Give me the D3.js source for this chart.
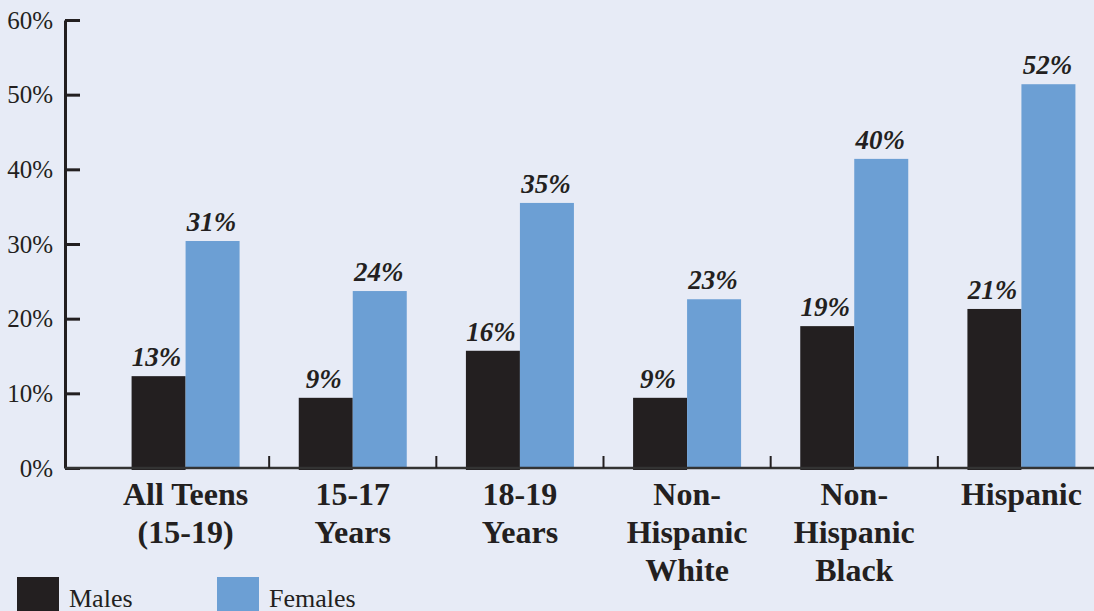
<!DOCTYPE html>
<html>
<head>
<meta charset="utf-8">
<script src="https://cdn.jsdelivr.net/npm/d3@7"></script>
<style>
  body { margin: 0; background: #e7ebf6; }
  svg { display: block; }
  svg text { font-family: "Liberation Serif", Tinos, "Times New Roman", "DejaVu Serif", serif; }
</style>
</head>
<body>
<script>
// chart data
var categories = ["All Teens (15-19)", "15-17 Years", "18-19 Years", "Non-Hispanic White", "Non-Hispanic Black", "Hispanic"];
var categoryLines = [["All Teens", "(15-19)"], ["15-17", "Years"], ["18-19", "Years"], ["Non-", "Hispanic", "White"], ["Non-", "Hispanic", "Black"], ["Hispanic"]];
var males = [12.3, 9.4, 15.7, 9.4, 19.0, 21.3];
var females = [30.4, 23.7, 35.5, 22.6, 41.4, 51.4];
var maleLabels = ["13%", "9%", "16%", "9%", "19%", "21%"];
var femaleLabels = ["31%", "24%", "35%", "23%", "40%", "52%"];
var yTicks = [0, 10, 20, 30, 40, 50, 60];
var seriesNames = ["Males", "Females"];

var w = 1094, h = 611;
var ink = "#231f20";
var colors = ["#231f20", "#6c9fd4"];
var barW = 54;
var serif = "'Liberation Serif', Tinos, 'Times New Roman', 'DejaVu Serif', serif";

var svg = d3.select("body")
	.append("svg")
	.attr("width", w)
	.attr("height", h);

var x = d3.scaleBand()
	.domain(categories)
	.range([102, 1105]);

var y = d3.scaleLinear()
	.domain([0, 60])
	.range([468, 20]);

//Y axis, ticks pointing into the plot
var yAxis = svg.append("g")
	.attr("transform", "translate(65,0)")
	.call(d3.axisLeft(y)
		.tickValues(yTicks)
		.tickSizeInner(-15)
		.tickSizeOuter(0)
		.tickPadding(12)
		.tickFormat(function(d) { return d + "%"; }));
yAxis.attr("font-family", serif);
yAxis.select(".domain").attr("stroke", ink).attr("stroke-width", 3);
yAxis.selectAll(".tick line").attr("stroke", ink).attr("stroke-width", 3);
yAxis.selectAll(".tick text")
	.attr("fill", ink)
	.style("font-size", "25px");

//Bars
var groups = svg.selectAll("g.grp")
	.data(categories)
	.enter()
	.append("g")
	.attr("class", "grp");

groups.append("rect")
	.attr("x", function(d) { return x(d) + x.bandwidth() / 2 - barW; })
	.attr("y", function(d, i) { return y(males[i]); })
	.attr("width", barW)
	.attr("height", function(d, i) { return y(0) - y(males[i]) + 2; })
	.attr("fill", colors[0]);

groups.append("rect")
	.attr("x", function(d) { return x(d) + x.bandwidth() / 2; })
	.attr("y", function(d, i) { return y(females[i]); })
	.attr("width", barW)
	.attr("height", function(d, i) { return y(0) - y(females[i]); })
	.attr("fill", colors[1]);

//X axis line and boundary ticks
svg.append("line")
	.attr("x1", 65).attr("x2", w)
	.attr("y1", y(0)).attr("y2", y(0))
	.attr("stroke", "#333")
	.attr("stroke-width", 2.5);

svg.selectAll("line.xtick")
	.data(categories.slice(1))
	.enter()
	.append("line")
	.attr("class", "xtick")
	.attr("x1", function(d) { return x(d); })
	.attr("x2", function(d) { return x(d); })
	.attr("y1", y(0))
	.attr("y2", y(0) - 12)
	.attr("stroke", ink)
	.attr("stroke-width", 2);

//Value labels
groups.append("text")
	.text(function(d, i) { return maleLabels[i]; })
	.attr("x", function(d) { return x(d) + x.bandwidth() / 2 - barW / 2 - 2; })
	.attr("y", function(d, i) { return y(males[i]) - 10; })
	.attr("text-anchor", "middle")
	.attr("fill", ink)
	.style("font-size", "27px")
	.style("font-weight", "bold")
	.style("font-style", "italic");

groups.append("text")
	.text(function(d, i) { return femaleLabels[i]; })
	.attr("x", function(d) { return x(d) + x.bandwidth() / 2 + barW / 2 - 1; })
	.attr("y", function(d, i) { return y(females[i]) - 10; })
	.attr("text-anchor", "middle")
	.attr("fill", ink)
	.style("font-size", "27px")
	.style("font-weight", "bold")
	.style("font-style", "italic");

//Category labels
groups.append("text")
	.attr("text-anchor", "middle")
	.attr("fill", ink)
	.style("font-size", "32px")
	.style("font-weight", "bold")
	.attr("transform", function(d) { return "translate(" + (x(d) + x.bandwidth() / 2) + ",505)"; })
	.selectAll("tspan")
	.data(function(d, i) { return categoryLines[i]; })
	.enter()
	.append("tspan")
	.attr("x", 0)
	.attr("y", function(d, i) { return i * 38; })
	.text(function(d) { return d; });

//Legend
var legend = svg.selectAll("g.legend")
	.data(seriesNames)
	.enter()
	.append("g")
	.attr("class", "legend")
	.attr("transform", function(d, i) { return "translate(" + (17 + i * 200) + ",577)"; });

legend.append("rect")
	.attr("width", 42)
	.attr("height", 40)
	.attr("fill", function(d, i) { return colors[i]; });

legend.append("text")
	.text(function(d) { return d; })
	.attr("x", 52)
	.attr("y", 30)
	.attr("fill", ink)
	.style("font-size", "26px");
</script>
</body>
</html>
